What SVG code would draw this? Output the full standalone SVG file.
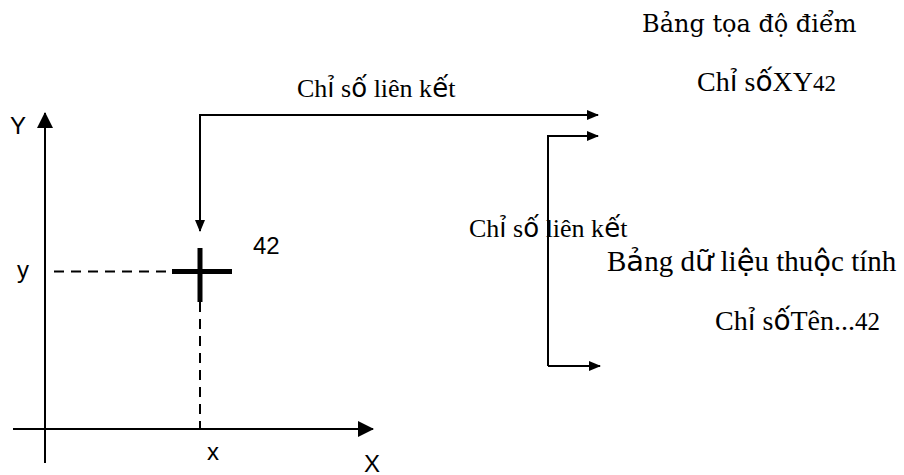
<svg xmlns="http://www.w3.org/2000/svg" width="904" height="475" viewBox="0 0 904 475">
<defs>
<marker id="ah" markerWidth="12" markerHeight="10" refX="11" refY="5" orient="auto" markerUnits="userSpaceOnUse">
<path d="M0,0 L12,5 L0,10 Z" fill="#000"/>
</marker>
<marker id="ahBig" markerWidth="16" markerHeight="16" refX="15" refY="8" orient="auto" markerUnits="userSpaceOnUse">
<path d="M0,0 L16,8 L0,16 Z" fill="#000"/>
</marker>
<style>
.serif{font-family:"Liberation Serif","Times New Roman",serif;fill:#000}
.dserif{font-family:"DejaVu Serif",serif;fill:#000}
.fb{font-family:"DejaVu Sans",sans-serif}
.sans{font-family:"Liberation Sans",Arial,sans-serif;fill:#000;font-size:24px}
.ln{stroke:#000;stroke-width:2;fill:none}
.dash{stroke:#000;stroke-width:2;fill:none;stroke-dasharray:10,7}
.cross{stroke:#000;stroke-width:5;fill:none}
</style>
</defs>
<rect width="904" height="475" fill="#fff"/>

<g id="axes">
<line class="ln" x1="45" y1="463" x2="45" y2="113" marker-end="url(#ahBig)"/>
<line class="ln" x1="13" y1="429" x2="373" y2="429" marker-end="url(#ahBig)"/>
<text class="sans" x="10" y="134">Y</text>
<text class="sans" x="364" y="472">X</text>
<text class="sans" x="17" y="278">y</text>
<text class="sans" x="207" y="460">x</text>
</g>

<g id="point">
<line class="dash" x1="54" y1="271.5" x2="172" y2="271.5"/>
<line class="dash" x1="200" y1="302" x2="200" y2="429"/>
<line class="cross" x1="172" y1="271.5" x2="232" y2="271.5"/>
<line class="cross" x1="200" y1="248" x2="200" y2="302"/>
<text class="sans" x="253" y="254">42</text>
</g>

<g id="table-coords">
<text class="dserif" x="642" y="32" font-size="24">Bảng tọa độ điểm</text>
<text class="serif" x="697" y="91" font-size="28">Ch<tspan class="fb">ỉ</tspan> s<tspan class="fb">ố</tspan>XY<tspan font-size="23">42</tspan></text>
</g>

<g id="table-attrs">
<text class="serif" x="607" y="271" font-size="29">B<tspan class="fb">ả</tspan>ng d<tspan class="fb">ữ</tspan> li<tspan class="fb">ệ</tspan>u thu<tspan class="fb">ộ</tspan>c tính</text>
<text class="serif" x="715" y="330" font-size="28">Ch<tspan class="fb">ỉ</tspan> s<tspan class="fb">ố</tspan>Tên...<tspan font-size="25">42</tspan></text>
</g>

<g id="connectors">
<polyline class="ln" points="598,115 200,115 200,231" marker-end="url(#ah)"/>
<line class="ln" x1="200" y1="115" x2="598" y2="115" marker-end="url(#ah)"/>
<polyline class="ln" points="548,366 548,136 598,136" marker-end="url(#ah)"/>
<line class="ln" x1="548" y1="366" x2="600" y2="366" marker-end="url(#ah)"/>
<text class="serif" x="297" y="97" font-size="26">Ch<tspan class="fb">ỉ</tspan> s<tspan class="fb">ố</tspan> liên k<tspan class="fb">ế</tspan>t</text>
<text class="serif" x="469" y="237" font-size="26">Ch<tspan class="fb">ỉ</tspan> s<tspan class="fb">ố</tspan> liên k<tspan class="fb">ế</tspan>t</text>
</g>
</svg>
